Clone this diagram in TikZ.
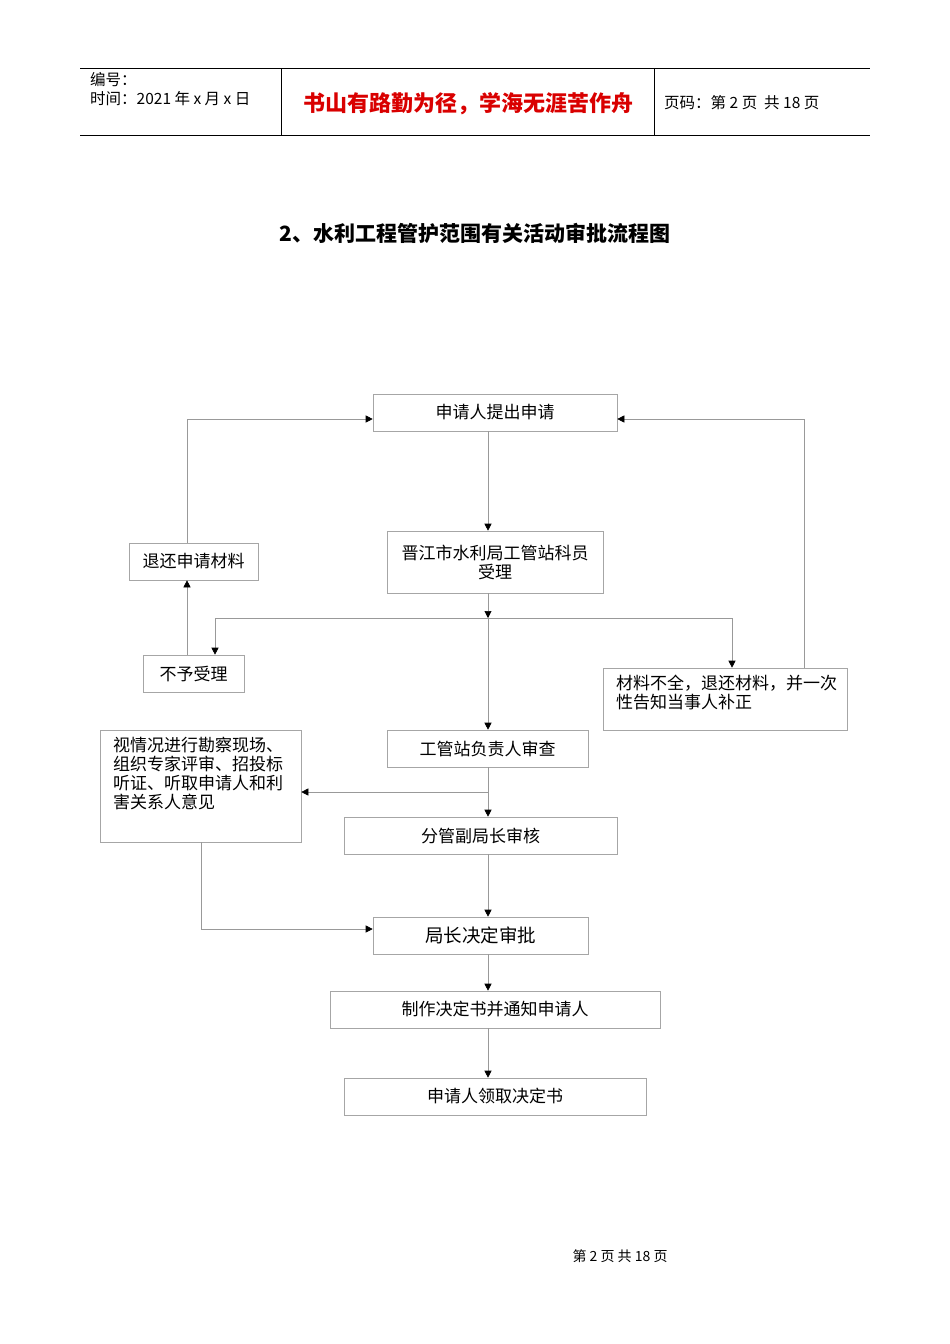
\documentclass[tikz,border=0pt]{standalone}
\usepackage{fontspec}
\setmainfont{Liberation Sans}
\newfontfamily\cjk{Noto Sans CJK SC}
\usetikzlibrary{arrows.meta}
\begin{document}
\begin{tikzpicture}[x=1pt,y=-1pt,
  bx/.style={draw=gray!70,line width=0.6pt,inner sep=0pt,font=\cjk\fontsize{17}{19}\selectfont},
  ln/.style={draw=gray!80,line width=0.6pt},
  ar/.style={ln,-{Triangle[length=7pt,width=7pt,fill=black,color=black]}},
  lbl/.style={font=\cjk\fontsize{17}{19}\selectfont,anchor=north west,align=left,inner sep=0pt}]
\useasboundingbox (0,0) rectangle (950,1344);
% header
\draw[line width=0.6pt] (80,68) -- (870,68) (80,135) -- (870,135) (281,68) -- (281,135) (654,68) -- (654,135);
\node[anchor=west,inner sep=0pt,font=\cjk\fontsize{15.5}{18}\selectfont] (h1) at (90,80) {编号：};
\node[anchor=west,inner sep=0pt,font=\cjk\fontsize{15.5}{18}\selectfont] (h2) at (90,99) {时间：2021 年 x 月 x 日};
\node[inner sep=0pt,text=red!85!black,font=\cjk\bfseries\fontsize{22}{24}\selectfont] (h3) at (468,104) {书山有路勤为径，学海无涯苦作舟};
\node[anchor=west,inner sep=0pt,font=\cjk\fontsize{15.5}{18}\selectfont] (h4) at (664,103) {页码：第 2 页\ \ 共 18 页};
\node[inner sep=0pt,font=\cjk\bfseries\fontsize{21}{24}\selectfont] (title) at (475,233) {2、水利工程管护范围有关活动审批流程图};
% boxes
\node[bx,minimum width=244,minimum height=37] (A) at (495,412.5) {申请人提出申请};
\node[bx,minimum width=216,minimum height=62,align=center] (B) at (495,562) {晋江市水利局工管站科员\\受理};
\node[bx,minimum width=129,minimum height=37] (C) at (193.5,561.5) {退还申请材料};
\node[bx,minimum width=101,minimum height=37] (D) at (193.5,673.5) {不予受理};
\node[bx,minimum width=244,minimum height=62] (E) at (725,699) {};
\node[lbl] (Et) at (616,675) {材料不全，退还材料，并一次\\性告知当事人补正};
\node[bx,minimum width=201,minimum height=37] (F) at (487.5,748.5) {工管站负责人审查};
\node[bx,minimum width=201,minimum height=112] (G) at (200.5,786) {};
\node[lbl] (Gt) at (113,737) {视情况进行勘察现场、\\组织专家评审、招投标\\听证、听取申请人和利\\害关系人意见};
\node[bx,minimum width=273,minimum height=37] (H) at (480.5,835.5) {分管副局长审核};
\node[bx,minimum width=215,minimum height=37,font=\cjk\fontsize{18.5}{20}\selectfont] (I) at (480.5,935.5) {局长决定审批};
\node[bx,minimum width=330,minimum height=37] (J) at (495,1009.5) {制作决定书并通知申请人};
\node[bx,minimum width=302,minimum height=37] (K) at (495,1096.5) {申请人领取决定书};
\node[inner sep=0pt,font=\cjk\fontsize{14}{16}\selectfont] (foot) at (620,1256) {第 2 页 共 18 页};
% connectors
\coordinate (s) at (488,618);
\coordinate (sl) at (215,618);
\coordinate (sr) at (732,618);
\draw[ar] (A.south -| s) -- (B.north -| s);
\draw[ar] (B.south -| s) -- (s);
\draw[ln] (sl) -- (sr);
\draw[ar] (sl) -- (D.north -| sl);
\draw[ar] (sr) -- (E.north -| sr);
\draw[ar] (s) -- (F.north -| s);
\draw[ar] (D.north -| 187,0) -- (C.south -| 187,0);
\draw[ar] (C.north -| 187,0) |- (A.west |- 0,419);
\draw[ar] (E.north -| 804,0) |- (A.east |- 0,419);
\coordinate (m) at (488,792);
\draw[ar] (F.south -| m) -- (H.north -| m);
\draw[ar] (m) -- (G.east |- m);
\draw[ar] (G.south -| 201,0) |- (I.west |- 0,929);
\draw[ar] (H.south -| m) -- (I.north -| m);
\draw[ar] (I.south -| m) -- (J.north -| m);
\draw[ar] (J.south -| m) -- (K.north -| m);
\end{tikzpicture}
\end{document}
